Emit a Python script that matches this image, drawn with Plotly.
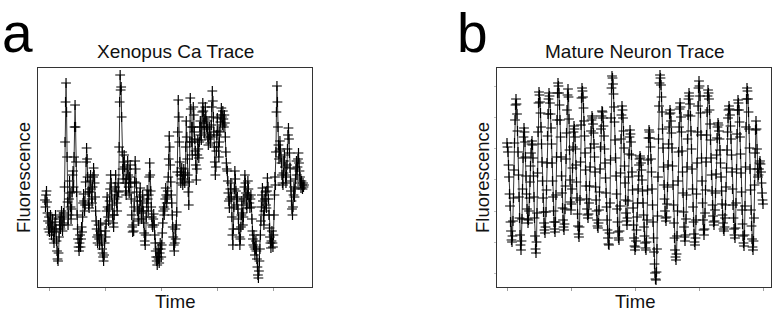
import plotly.graph_objects as go

# ---- Panel a: Xenopus Ca trace (fluorescence, arbitrary units) ----
xenopus_f = [
    87, 80, 92, 96, 85, 74,
    66, 58, 70, 55, 64, 72, 60, 52, 62, 68, 56, 48, 44, 55,
    65, 72, 58, 46, 36, 28, 26, 34, 50, 62, 70, 58,
    68, 76, 62, 56, 70, 74, 64,
    100, 145, 185, 204, 175, 130, 85,
    62, 72, 88, 106, 94, 80, 68, 78,
    95, 112, 116, 100,
    130, 160, 182, 160, 125, 95,
    72, 58, 48, 40, 36, 44, 52, 40, 48, 60, 55,
    70, 84, 93, 86, 76, 82,
    105, 125, 139, 128, 110, 95,
    82, 79, 95, 106, 112, 98, 88, 84, 100, 110, 119,
    112, 104, 90, 76,
    66, 58, 50, 44, 52, 62, 48, 42, 56, 64, 52, 46, 38, 34,
    30, 26, 32, 44, 56, 50,
    63, 76, 90, 80, 70, 66, 78, 86,
    98, 112, 104, 92, 82, 72, 64, 60,
    72, 88, 100, 112, 96, 84, 76, 90, 104, 95,
    140, 185, 212, 197, 200, 170, 135,
    118, 108, 125, 132, 120, 104, 96, 92, 108, 118, 126, 112, 100, 94, 110, 122, 104,
    88, 72, 60, 55, 62, 56,
    80, 105, 126, 118, 104, 95,
    86, 76, 68, 66, 78, 90, 99, 86, 74, 68, 80, 92, 76, 64,
    54, 46, 42, 52,
    70, 84, 97, 88, 76, 92,
    110, 124, 112, 96,
    80, 70, 62, 60, 68, 73, 62, 52,
    44, 36, 30, 26, 22, 30, 38, 28, 24, 34, 44, 38, 30, 42,
    54, 64, 76, 80, 72, 78, 88, 99, 92, 84, 90, 96,
    110, 128, 151, 140, 122, 105, 92,
    84, 72, 60, 50, 42, 36, 44, 58, 48, 62, 75,
    115, 155, 187, 170, 145, 125,
    112, 104, 115, 119, 108, 102, 112, 118, 106, 104, 114,
    140, 166, 150, 128, 112,
    95, 82, 105, 145, 189, 178, 160,
    145, 132, 160, 180, 172, 155, 148,
    136, 122, 107, 118, 132, 147, 138, 129,
    145, 160, 166, 152,
    147, 160, 175, 184, 176, 164, 154, 168, 180, 170, 160, 166,
    158, 150, 142, 148, 160, 152, 144, 150, 162,
    180, 196, 186, 170, 155,
    140, 125, 112, 120, 136, 152, 169, 156, 140, 130, 145, 155,
    165, 172, 179, 170, 162, 176, 168, 160, 172, 164, 150,
    135, 124, 118, 116,
    106, 94, 86, 79, 88, 98, 104, 90,
    70, 52, 42, 58,
    80, 98, 116, 108, 96, 88, 82, 90,
    78, 68, 58, 50, 42, 48, 60, 72, 86, 74, 62, 70,
    88, 100, 112, 104, 94, 82, 79, 92, 106, 98,
    90, 84, 79, 88, 92, 80, 68,
    56, 48, 42, 52, 40, 32, 38, 46, 36, 28,
    20, 12, 9, 16, 26, 38,
    52, 66, 80, 92, 99, 86, 72, 62, 76, 88, 95, 82,
    79, 96, 109, 100, 88,
    72, 59, 50, 44, 39, 46, 56, 44, 40, 52,
    72, 92, 110, 102,
    135, 175, 201, 185, 160,
    142, 128, 136, 146, 138, 130,
    124, 112, 104, 102, 114, 126, 132, 120, 110, 104, 112, 122,
    138, 152, 159, 148, 134,
    119, 106, 96, 86, 78, 72, 80, 92, 100, 90, 98,
    108, 118, 126, 112, 120, 128, 134, 124, 116, 110,
    104, 99, 106, 102, 98, 104, 100, 102,
]

# ---- Panel b: Mature neuron trace (fluorescence, arbitrary units) ----
neuron_f = [
    144, 140, 135, 122, 110, 93, 81, 65, 56, 47, 45,
    51, 66, 89, 117, 144, 167, 182, 188,
    183, 173, 156, 135, 112, 90, 69, 52, 42, 37,
    46, 68, 98, 129, 150, 159,
    155, 145, 130, 111, 93, 78, 68, 64,
    67, 76, 89, 105, 121, 134, 143, 146,
    142, 129, 111, 90, 69, 51, 38, 34,
    45, 74, 114, 155, 184, 195,
    192, 185, 174, 160, 143, 125, 106, 89, 75, 64, 57, 54,
    60, 75, 97, 124, 151, 173, 188, 194,
    191, 184, 173, 159, 143, 124, 106, 90, 76, 65, 58, 55,
    65, 92, 130, 167, 194, 204,
    201, 194, 182, 167, 150, 130, 111, 94, 79, 67, 60, 57,
    63, 78, 101, 128, 154, 177, 192, 198,
    190, 168, 137, 107, 85, 77,
    83, 98, 119, 140, 155, 161,
    158, 150, 138, 122, 105, 89, 73, 61, 53, 50,
    60, 87, 125, 162, 189, 199,
    196, 190, 179, 166, 151, 134, 117, 101, 88, 78, 72, 69,
    73, 84, 101, 120, 139, 156, 167, 171,
    169, 163, 154, 143, 130, 115, 100, 87, 76, 67, 61, 59,
    64, 77, 95, 118, 140, 158, 171, 176,
    175, 169, 161, 151, 138, 124, 109, 94, 80, 67, 57, 49, 43, 42,
    54, 84, 127, 169, 199, 211,
    209, 203, 193, 180, 165, 147, 129, 111, 93, 78, 65, 55, 49, 47,
    56, 81, 114, 148, 172, 181,
    177, 169, 156, 139, 121, 104, 87, 74, 66, 62,
    69, 86, 110, 133, 150, 157,
    153, 145, 132, 115, 97, 79, 62, 49, 41, 37,
    40, 46, 57, 70, 84, 98, 111, 122, 128, 131,
    129, 124, 117, 107, 96, 84, 72, 60, 51, 44, 39, 37,
    45, 67, 97, 127, 149, 157,
    155, 149, 140, 128, 115, 98, 82, 65, 49, 35, 23, 14, 8, 7,
    15, 38, 71, 110, 148, 181, 204, 212,
    209, 202, 190, 175, 158, 139, 120, 102, 88, 76, 69, 66,
    70, 83, 100, 122, 143, 160, 173, 177,
    174, 166, 154, 139, 121, 102, 82, 64, 49, 37, 30, 27,
    33, 51, 76, 106, 135, 160, 178, 184,
    180, 170, 155, 136, 115, 94, 75, 60, 50, 46,
    52, 68, 92, 120, 148, 172, 188, 194,
    191, 183, 171, 156, 138, 118, 98, 80, 65, 53, 45, 42,
    49, 67, 93, 124, 155, 181, 199, 206,
    201, 191, 174, 152, 129, 106, 84, 67, 57, 52,
    58, 74, 97, 125, 152, 175, 191, 197,
    194, 188, 177, 163, 147, 129, 112, 96, 82, 71, 65, 62,
    66, 77, 94, 113, 132, 149, 160, 164,
    162, 156, 148, 137, 124, 110, 96, 83, 72, 64, 58, 56,
    60, 69, 82, 100, 119, 137, 155, 169, 177, 181,
    178, 172, 161, 148, 132, 115, 98, 82, 69, 58, 52, 49,
    59, 84, 118, 153, 177, 187,
    184, 177, 165, 150, 133, 114, 95, 77, 63, 51, 44, 41,
    52, 81, 120, 160, 188, 199,
    196, 188, 175, 158, 139, 118, 97, 77, 61, 48, 40, 37,
    46, 69, 102, 134, 157, 166,
    158, 138, 118, 110,
    112, 118, 124, 126,
    123, 115, 104, 94, 87, 83,
]

xenopus_t = list(range(len(xenopus_f)))
neuron_t = list(range(len(neuron_f)))

xenopus_xticks = [8, 120, 232, 344, 456]
neuron_xticks = [0, 128, 256, 384, 512]
neuron_yticks = [14, 45, 76, 108, 139, 170, 201]

panel_letters = ["a", "b"]
panel_titles = ["Xenopus Ca Trace", "Mature Neuron Trace"]
x_label = "Time"
y_label = "Fluorescence"

W, H = 775, 311
FONT = "Liberation Sans, Arial, Helvetica, sans-serif"
LINE_COL = "#333333"
MARK_COL = "#000000"

fig = go.Figure()
for t, f, ax in [(xenopus_t, xenopus_f, ("x", "y")), (neuron_t, neuron_f, ("x2", "y2"))]:
    fig.add_trace(go.Scatter(
        x=t, y=f, xaxis=ax[0], yaxis=ax[1], mode="lines+markers",
        line=dict(color=LINE_COL, width=1),
        marker=dict(symbol="cross-thin", size=7, line=dict(width=1.2, color=MARK_COL)),
        showlegend=False, hoverinfo="skip",
    ))

na = len(xenopus_f) - 1
nb = len(neuron_f) - 1
sa = na / 259.0
sb = nb / 256.0

ytop = 1 - 68 / H
ybot = 1 - 287 / H

common_x = dict(showgrid=False, zeroline=False, showticklabels=False, showline=True,
                linecolor="#333333", linewidth=1.2, mirror=True, ticks="outside",
                ticklen=3, tickcolor="#a0a0a0", tickwidth=1)
common_y = dict(showgrid=False, zeroline=False, showticklabels=False, showline=True,
                linecolor="#333333", linewidth=1.2, mirror=True, range=[0, 219],
                domain=[ybot, ytop])

fig.update_layout(
    width=W, height=H, margin=dict(l=0, r=0, t=0, b=0),
    paper_bgcolor="white", plot_bgcolor="white",
    xaxis=dict(domain=[38 / W, 312 / W], range=[-7 * sa, na + 8 * sa],
               tickmode="array", tickvals=xenopus_xticks, anchor="y", **common_x),
    yaxis=dict(anchor="x", ticks="", **common_y),
    xaxis2=dict(domain=[497 / W, 771 / W], range=[-10 * sb, nb + 8 * sb],
                tickmode="array", tickvals=neuron_xticks, anchor="y2", **common_x),
    yaxis2=dict(anchor="x2", ticks="outside", ticklen=2, tickcolor="#c0c0c0",
                tickmode="array", tickvals=neuron_yticks, **common_y),
)

ann = []
letter_x = [0 / W, 455 / W]
title_x = [175.5 / W, 635 / W]
time_x = [175 / W, 634.5 / W]
fl_x = [23.5 / W, 482.5 / W]
for i in range(2):
    ann.append(dict(text=panel_letters[i], x=letter_x[i], y=1 - 33 / H, xref="paper", yref="paper",
                    xanchor="left", yanchor="middle", showarrow=False,
                    font=dict(family=FONT, size=55, color="#000")))
    ann.append(dict(text=panel_titles[i], x=title_x[i], y=1 - 51.5 / H, xref="paper", yref="paper",
                    xanchor="center", yanchor="middle", showarrow=False,
                    font=dict(family=FONT, size=19, color="#111")))
    ann.append(dict(text=x_label, x=time_x[i], y=1 - 301.5 / H, xref="paper", yref="paper",
                    xanchor="center", yanchor="middle", showarrow=False,
                    font=dict(family=FONT, size=18.5, color="#111")))
    ann.append(dict(text=y_label, x=fl_x[i], y=1 - 177.5 / H, xref="paper", yref="paper",
                    xanchor="center", yanchor="middle", showarrow=False, textangle=-90,
                    font=dict(family=FONT, size=18.5, color="#111")))
fig.update_layout(annotations=ann)

fig.write_html("out.html")
